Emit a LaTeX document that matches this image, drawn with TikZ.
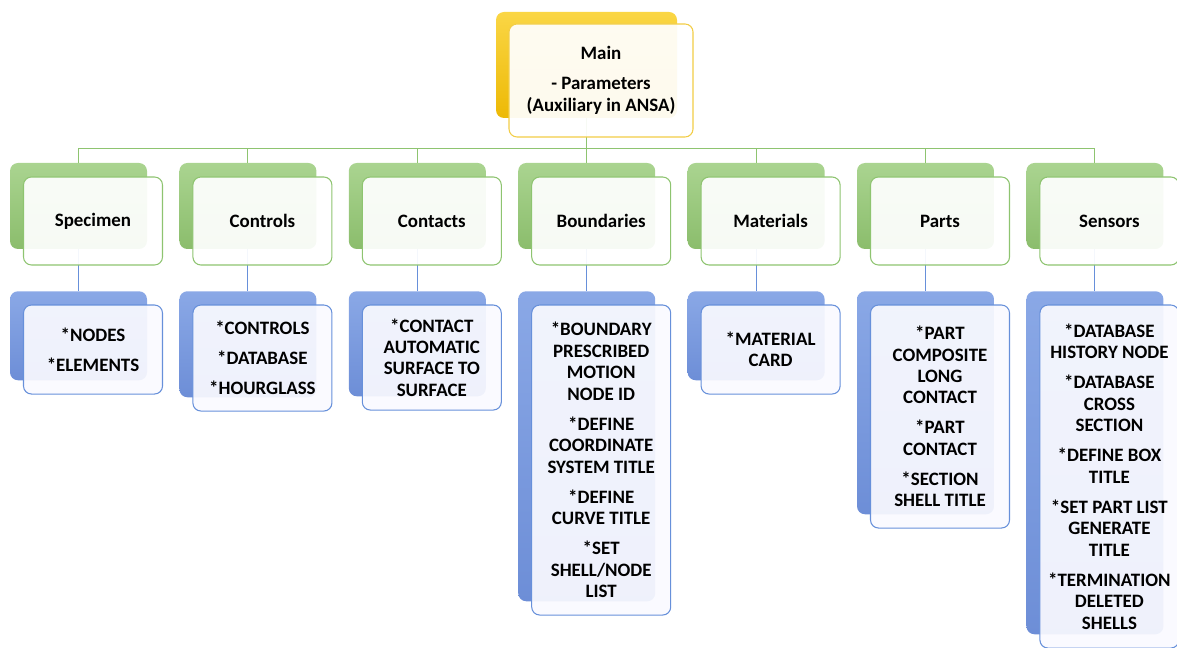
\documentclass[tikz,border=0pt]{standalone}
\usepackage{fontspec}
\setmainfont{Carlito}
\usetikzlibrary{positioning}

\definecolor{grnhi}{HTML}{AAD490}
\definecolor{grnlo}{HTML}{8BBD6C}
\definecolor{grnedge}{HTML}{8EC470}
\definecolor{bluhi}{HTML}{8AA8E6}
\definecolor{blulo}{HTML}{6D8ED7}
\definecolor{bluedge}{HTML}{6790DA}
\definecolor{yelhi}{HTML}{FAD645}
\definecolor{yello}{HTML}{EDB905}
\definecolor{yeledge}{HTML}{F2CD46}

\newcommand{\pgap}{\\[6.4pt]}

\tikzset{
  card/.style={rounded corners=6pt, inner sep=2pt, align=center,
    font=\fontsize{14.2}{16.1}\selectfont\bfseries},
  mainback/.style={card, top color=yelhi, bottom color=yello, draw=none,
    minimum width=135.75pt, minimum height=79.5pt},
  mainfront/.style={card, draw=yeledge, line width=0.8pt, fill=white, fill opacity=0.93,
    text opacity=1, minimum width=138pt, minimum height=84.75pt},
  grnback/.style={card, top color=grnhi, bottom color=grnlo,
    minimum width=102.75pt, minimum height=64.5pt},
  grnfront/.style={card, draw=grnedge, line width=0.8pt, fill=white, fill opacity=0.93,
    text opacity=1, minimum width=104.25pt, minimum height=66pt},
  bluback/.style={card, anchor=north, top color=bluhi, bottom color=blulo,
    minimum width=102.75pt},
  blufront/.style={card, anchor=north, draw=bluedge, line width=0.8pt,
    fill=blue!2!white, fill opacity=0.92, text opacity=1, minimum width=104.25pt},
  grnline/.style={draw=grnedge, line width=0.8pt},
  bluline/.style={draw=bluedge, line width=0.8pt}
}

\begin{document}
\begin{tikzpicture}[x=0.75pt,y=-0.75pt]
\useasboundingbox (0,0) rectangle (1177,648);

% top level
\node[mainback] (main-bk) at (586.5,65) {};

% columns
\foreach \name/\lab/\items/\h [count=\k from 0] in {
    spec/Specimen/{*NODES\pgap*ELEMENTS}/66.75pt,
    ctrl/Controls/{*CONTROLS\pgap*DATABASE\pgap*HOURGLASS}/79.5pt,
    cont/Contacts/{*CONTACT\\AUTOMATIC\\SURFACE TO\\SURFACE}/78.75pt,
    bnd/Boundaries/{*BOUNDARY\\PRESCRIBED\\MOTION\\NODE ID\pgap*DEFINE\\COORDINATE\\SYSTEM TITLE\pgap*DEFINE\\CURVE TITLE\pgap*SET\\SHELL/NODE\\LIST}/232.5pt,
    mat/Materials/{*MATERIAL\\CARD}/66.75pt,
    part/Parts/{*PART\\COMPOSITE\\LONG\\CONTACT\pgap*PART\\CONTACT\pgap*SECTION\\SHELL TITLE}/167.25pt,
    sens/Sensors/{*DATABASE\\HISTORY NODE\pgap*DATABASE\\CROSS\\SECTION\pgap*DEFINE BOX\\TITLE\pgap*SET PART LIST\\GENERATE\\TITLE\pgap*TERMINATION\\DELETED\\SHELLS}/257.25pt}{
  \node[grnback] (\name-bk) at ({78.5+169.4*\k},206) {};
  \node[bluback, minimum height=\h] (\name-sub-bk) at ({78.5+169.4*\k},291) {};
  \draw[grnline] (main-bk.south) -- ++(0,30) -| (\name-bk.north);
  \draw[bluline] (\name-bk.south) -- (\name-sub-bk.north);
  \node[grnfront] (\name) at ({93+169.4*\k},221) {\lab};
  \node[blufront, minimum height=\h] (\name-sub) at ({93+169.4*\k},304.5) {\items};
}

\node[mainfront] (main) at (601,80.5) {Main\pgap- Parameters\\(Auxiliary in ANSA)};
\end{tikzpicture}
\end{document}
